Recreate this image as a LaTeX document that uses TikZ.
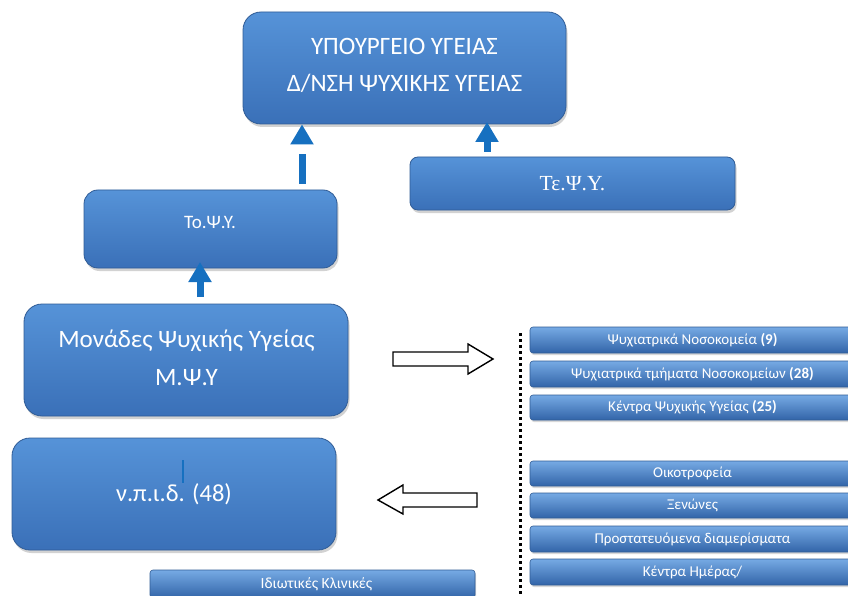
\documentclass[tikz,border=0pt]{standalone}
\usepackage{fontspec}
\setmainfont{Carlito}
\newfontfamily\serifgr{Liberation Serif}
\usetikzlibrary{shadows,arrows.meta}
\definecolor{boxtop}{RGB}{86,147,216}
\definecolor{boxmid}{RGB}{72,132,204}
\definecolor{boxbot}{RGB}{58,112,184}
\definecolor{boxline}{RGB}{48,92,150}
\definecolor{bartop}{RGB}{118,170,228}
\definecolor{barmid}{RGB}{70,130,202}
\definecolor{barbot}{RGB}{50,100,168}
\definecolor{arrowblue}{RGB}{22,112,192}
\tikzset{
  bigbox/.style={draw=boxline, line width=0.8pt, top color=boxtop, middle color=boxmid, bottom color=boxbot,
    inner sep=0pt, drop shadow={opacity=0.35, shadow xshift=1.5pt, shadow yshift=-3pt}},
  barbox/.style={draw=boxline, line width=0.6pt, top color=bartop, middle color=barmid, bottom color=barbot,
    rounded corners=3pt, inner sep=0pt, minimum width=325pt, text=white, font=\fontsize{15}{17}\selectfont,
    drop shadow={opacity=0.3, shadow xshift=1pt, shadow yshift=-2pt}},
  boxtext/.style={text=white, anchor=base, inner sep=0pt},
  bluearrow/.style={draw=arrowblue, line width=7pt, -{Triangle[width=22pt,length=20pt]}},
  hollow/.style={draw=black, fill=white, line width=1.4pt, line join=miter},
}
\begin{document}
\begin{tikzpicture}[x=1pt,y=-1pt]
\clip (0,0) rectangle (848,596);
\fill[white] (0,0) rectangle (848,596);

% big boxes
\node[bigbox, rounded corners=18pt, minimum width=323pt, minimum height=112pt] (top) at (404.5,68) {};
\node[boxtext, font=\fontsize{25}{28}\selectfont] (topA) at (404.5,55) {ΥΠΟΥΡΓΕΙΟ ΥΓΕΙΑΣ};
\node[boxtext, font=\fontsize{25}{28}\selectfont] (topB) at (404.5,92) {Δ/ΝΣΗ ΨΥΧΙΚΗΣ ΥΓΕΙΑΣ};

\node[bigbox, rounded corners=8pt, minimum width=325pt, minimum height=53pt] (teps) at (572.5,183.5) {};
\node[boxtext, font=\serifgr\fontsize{21.5}{24}\selectfont] (tepsT) at (572.5,191) {Τε.Ψ.Υ.};

\node[bigbox, rounded corners=14pt, minimum width=253pt, minimum height=78pt] (tops) at (210.5,229) {};
\node[boxtext, font=\fontsize{19}{22}\selectfont] (topsT) at (210,228) {Το.Ψ.Υ.};

\node[bigbox, rounded corners=18pt, minimum width=324pt, minimum height=112pt] (mpsy) at (186,360) {};
\node[boxtext, font=\fontsize{25}{28}\selectfont] (mpsyA) at (186.5,347) {Μονάδες Ψυχικής Υγείας};
\node[boxtext, font=\fontsize{25}{28}\selectfont] (mpsyB) at (186.5,385) {Μ.Ψ.Υ};

\node[bigbox, rounded corners=18pt, minimum width=324pt, minimum height=112pt] (npid) at (174,494) {};
\node[boxtext, font=\fontsize{24.5}{28}\selectfont] (npidT) at (174,501) {ν.π.ι.δ. (48)};
\coordinate (curA) at (183,460);
\coordinate (curB) at (183,483);
\draw[arrowblue, line width=2.5pt] (curA) -- (curB);

% bars
\node[barbox, minimum height=26pt] (b1) at (692.5,340) {Ψυχιατρικά Νοσοκομεία \textbf{(9)}};
\node[barbox, minimum height=26pt] (b2) at (692.5,374) {Ψυχιατρικά τμήματα Νοσοκομείων \textbf{(28)}};
\node[barbox, minimum height=25pt] (b3) at (692.5,407.5) {Κέντρα Ψυχικής Υγείας \textbf{(25)}};
\node[barbox, minimum height=25pt] (b4) at (692.5,473.5) {Οικοτροφεία};
\node[barbox, minimum height=25pt] (b5) at (692.5,505.5) {Ξενώνες};
\node[barbox, minimum height=26pt] (b6) at (692.5,539) {Προστατευόμενα διαμερίσματα};
\node[barbox, minimum height=26pt] (b7) at (692.5,572) {Κέντρα Ημέρας/};
\node[barbox, minimum height=28pt] (bk) at (312.5,584) {};
\node[boxtext, font=\fontsize{15.5}{17}\selectfont] (bkT) at (316.5,588) {Ιδιωτικές Κλινικές};

% dotted separator
\coordinate (dotA) at (520,333);
\coordinate (dotB) at (520,600);
\draw[line width=3pt, dash pattern=on 3pt off 3pt] (dotA) -- (dotB);

% blue arrows
\coordinate (a1s) at (302,184);
\draw[bluearrow, dash pattern=on 30pt off 11pt] (a1s) -- (a1s |- top.south);
\coordinate (a2s) at (487,152);
\draw[bluearrow] (a2s) -- (487,122);
\coordinate (a3s) at (200,297);
\draw[bluearrow] (a3s) -- (200,262);

% hollow arrows
\draw[hollow] (393,352) -- (468,352) -- (468,344) -- (493,359) -- (468,374) -- (468,366) -- (393,366) -- cycle;
\draw[hollow] (477,493) -- (403,493) -- (403,485) -- (378,500) -- (403,514) -- (403,507) -- (477,507) -- cycle;
\end{tikzpicture}
\end{document}
